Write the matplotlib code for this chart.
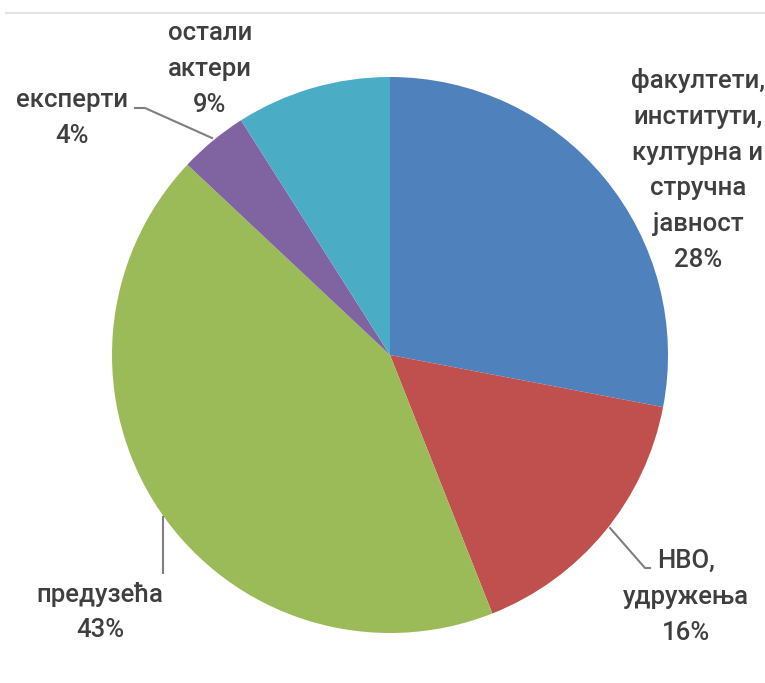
import matplotlib.pyplot as plt

# podaci
labels = ["факултети,\nинститути,\nкултурна и\nстручна\nјавност",
          "НВО,\nудружења", "предузећа", "експерти", "остали\nактери"]
shares = [28, 16, 43, 4, 9]
colors = ["#4f81bd", "#c0504d", "#9bbb59", "#8064a2", "#4bacc6"]

W, H = 765, 683

fig = plt.figure(figsize=(W / 100, H / 100), dpi=100)
ax = fig.add_axes([0, 0, 1, 1])


def Y(y):
    # pikselna y koordinata (odozgo) -> koordinata ose
    return H - y


ax.pie(shares, colors=colors, startangle=90, counterclock=False,
       center=(390, Y(355)), radius=278, wedgeprops=dict(linewidth=0))
ax.set_xlim(0, W)
ax.set_ylim(0, H)
ax.set_aspect("equal")
ax.axis("off")

# tanka linija na vrhu
ax.plot([6, W], [Y(13), Y(13)], color="#e4e4e4", lw=1.5)

# pozicije natpisa (centar teksta)
label_pos = [(698, 170), (686, 597), (100, 612), (72, 118), (210, 69)]
txt_style = dict(fontsize=18.5, color="#3f3f3f", ha="center", va="center",
                 family=["Roboto", "DejaVu Sans"], fontweight="medium",
                 linespacing=1.62)
for lab, val, (x, y) in zip(labels, shares, label_pos):
    ax.text(x, Y(y), f"{lab}\n{val}%", **txt_style)

# linije vodilje
line = dict(color="#7f7f7f", lw=1.5)
ax.plot([135, 145, 212], [Y(108), Y(108), Y(138)], **line)
ax.plot([610, 645, 650], [Y(528), Y(568), Y(568)], **line)
ax.plot([163, 163], [Y(517), Y(573)], **line)

fig.savefig("out.png", dpi=100, facecolor="white")
